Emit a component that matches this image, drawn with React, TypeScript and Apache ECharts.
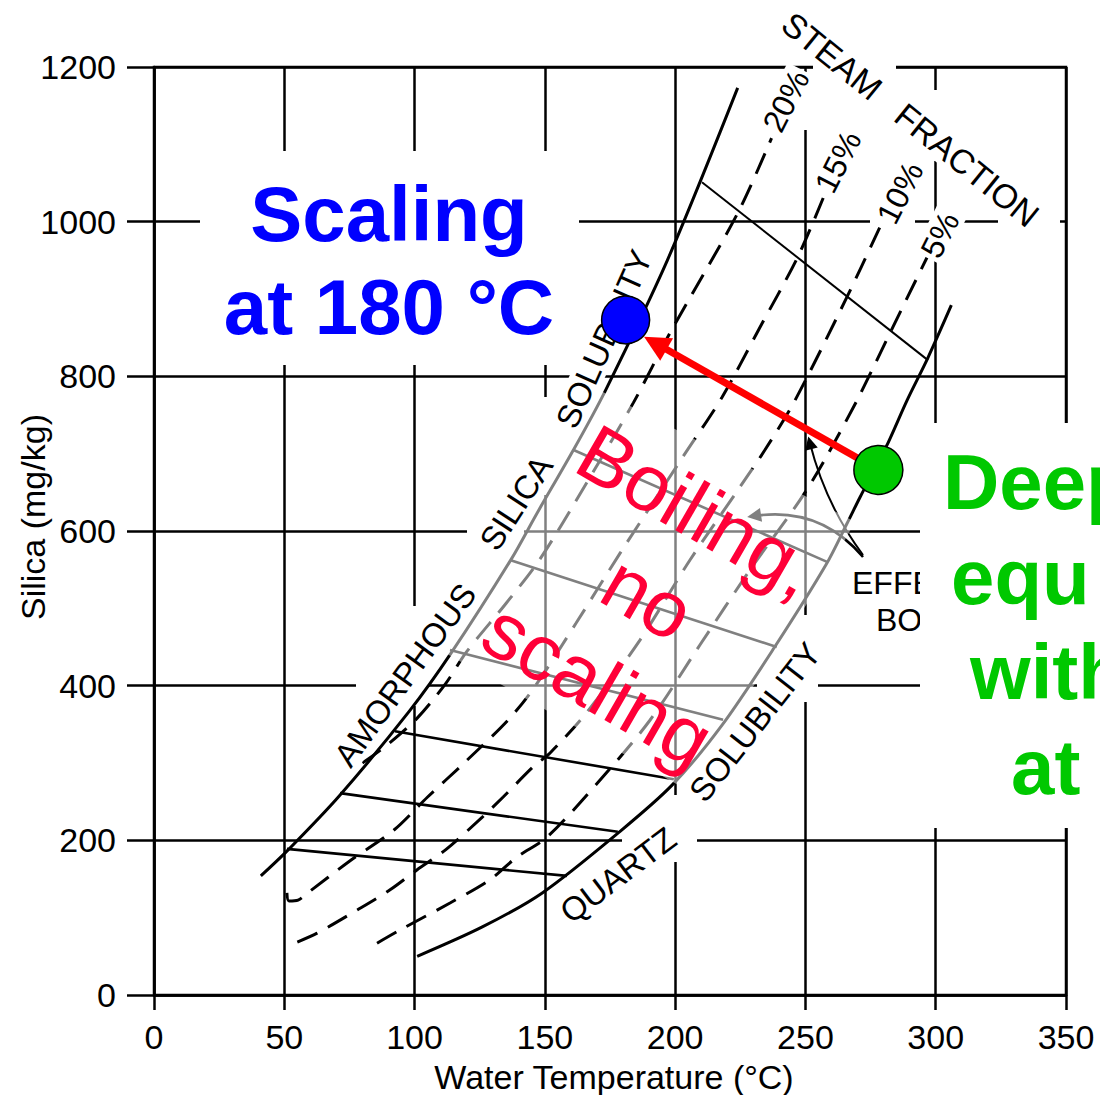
import React, { useEffect, useRef } from 'react';
import * as echarts from 'echarts';

const FONT = "'Liberation Sans', Arial, Helvetica, sans-serif";
const deg = (d: number) => (d * Math.PI) / 180;

// ---- axis ticks ----
const xTicks = [0, 50, 100, 150, 200, 250, 300, 350];
const yTicks = [0, 200, 400, 600, 800, 1000, 1200];

// ---- solubility curves (temperature °C, silica mg/kg) ----
const amorphousSilica: number[][] = [[41, 154], [51, 186], [71, 257], [98, 367], [114, 442], [137, 563], [147, 623], [161, 705], [173, 780], [197, 950], [224, 1173]];
const quartz: number[][] = [[101, 50], [126, 88], [149, 132], [179, 212], [199, 272], [218, 349], [238, 449], [258, 557], [266, 610], [271, 644], [281, 709], [289, 769], [297, 824], [306, 892]];

// ---- steam fraction curves (dashed) ----
const steam20: number[][] = [[80, 300], [89, 322], [101, 358], [112, 403], [120, 444], [135, 506], [148, 563], [166, 662], [184, 766], [198, 856], [224, 1011], [237, 1108]];
const steam15: number[][] = [[51, 132], [51.8, 121.6], [55.3, 122.8], [59, 132], [75, 173], [92, 213], [105, 256], [119, 300], [136, 356], [146, 398], [162, 481], [179, 572], [203, 696], [218, 773], [232, 860], [247, 954], [257, 1032]];
const steam10: number[][] = [[55, 68.5], [62.6, 80], [78, 110], [90.6, 136], [101, 162], [112, 188], [126, 230], [134, 256], [145.5, 295], [152, 313], [166, 365], [186.5, 459], [205.7, 562.5], [224.9, 657], [234.5, 705], [246, 769], [266, 903], [278.6, 993]];
const steam5: number[][] = [[85.6, 67], [94.4, 84], [113.6, 119], [128.9, 149], [139.3, 178.5], [150.8, 204], [171.2, 278], [190.4, 355.6], [209.5, 452.6], [228.7, 549.6], [247.9, 640], [256.7, 688], [269.8, 769], [283.6, 864], [296.7, 954]];

// ---- boiling paths (solid straight segments) ----
const boilingPaths: number[][][] = [
  [[51, 189], [158.5, 154]],
  [[71.4, 261], [178, 211]],
  [[92.5, 341], [199.5, 279]],
  [[113.6, 446], [218.4, 356]],
  [[136.6, 562.5], [239, 450]],
  [[160.8, 705], [258.3, 560]],
];
const topBoilingPath: number[][] = [[210.3, 1051], [297, 821]];

// ---- effervescent boiling arrows ----
const effArrowBlack: number[][] = [[272.1, 569], [251.7, 714]];
const effArrowGray: number[][] = [[272.1, 566.4], [230.3, 619.4]];

// ---- highlighted (greyed) "boiling, no scaling" zone ----
const boilingZone: number[][] = [[112, 442], [135, 563], [145, 623], [159, 705], [171, 782], [269, 612], [260, 557], [240, 449], [220, 349], [201, 272]];

// ---- points ----
const scalingPoint: number[][] = [[181, 873]];
const deepPoint: number[][] = [[278, 679]];
const scalingArrow: number[][] = [[278, 679], [192.4, 843]];

const steamCurves = [steam20, steam15, steam10, steam5];

export default function App() {
  const ref = useRef<HTMLDivElement>(null);
  useEffect(() => {
    const chart = echarts.init(ref.current!, null, { renderer: 'svg' });

    const label = (text: string, x: number, y: number, rot: number, size = 33, z = 4) => ({
      type: 'text', x, y, rotation: deg(rot), z, silent: true,
      style: {
        text, fontSize: size, fontFamily: FONT, fill: '#000', align: 'center', verticalAlign: 'middle',
        backgroundColor: '#fff', padding: [0, 3],
      },
    });
    const mask = (x: number, y: number, w: number, h: number, z = 1) => ({
      type: 'rect', z, silent: true, shape: { x, y, width: w, height: h }, style: { fill: '#fff' },
    });

    const axisLineStyle = { color: '#000', width: 2.5 };

    const option: any = {
      animation: false,
      backgroundColor: '#fff',
      grid: { left: 154, right: 34, top: 67, bottom: 100, show: true, borderColor: '#000', borderWidth: 2.5 },
      xAxis: {
        type: 'value', min: xTicks[0], max: xTicks[xTicks.length - 1], interval: xTicks[1] - xTicks[0],
        axisLine: { show: true, lineStyle: axisLineStyle },
        axisTick: { show: true, length: 15, lineStyle: axisLineStyle },
        axisLabel: { color: '#000', fontSize: 34, fontFamily: FONT, margin: 25, formatter: (v: number) => String(v) },
        splitLine: { show: true, lineStyle: axisLineStyle },
      },
      yAxis: {
        type: 'value', min: yTicks[0], max: yTicks[yTicks.length - 1], interval: yTicks[1] - yTicks[0],
        axisLine: { show: true, lineStyle: axisLineStyle },
        axisTick: { show: true, length: 27, lineStyle: axisLineStyle },
        axisLabel: { color: '#000', fontSize: 34, fontFamily: FONT, margin: 38, formatter: (v: number) => String(v) },
        splitLine: { show: true, lineStyle: axisLineStyle },
      },
      series: [
        { type: 'line', data: amorphousSilica, smooth: 0.3, symbol: 'none', silent: true, z: 2, lineStyle: { color: '#000', width: 3 } },
        { type: 'line', data: quartz, smooth: 0.3, symbol: 'none', silent: true, z: 2, lineStyle: { color: '#000', width: 3 } },
        ...steamCurves.map((d) => ({
          type: 'line', data: d, smooth: 0.3, symbol: 'none', silent: true, z: 2,
          lineStyle: { color: '#000', width: 3, type: [22, 12] },
        })),
        ...boilingPaths.map((d) => ({
          type: 'line', data: d, symbol: 'none', silent: true, z: 2, lineStyle: { color: '#000', width: 2.6 },
        })),
        { type: 'line', data: topBoilingPath, symbol: 'none', silent: true, z: 2, lineStyle: { color: '#000', width: 2 } },
        {
          type: 'lines', coordinateSystem: 'cartesian2d', z: 2, silent: true,
          symbol: ['none', 'triangle'], symbolSize: 13,
          lineStyle: { color: '#000', width: 2, curveness: 0.1, opacity: 1 },
          data: [{ coords: effArrowBlack }],
        },
        {
          type: 'lines', coordinateSystem: 'cartesian2d', z: 2, silent: true,
          symbol: ['none', 'triangle'], symbolSize: 14,
          lineStyle: { color: '#000', width: 2.6, curveness: -0.28, opacity: 1 },
          data: [{ coords: effArrowGray }],
        },
        {
          type: 'custom', coordinateSystem: 'cartesian2d', z: 3, silent: true,
          data: [[0, 0]],
          renderItem: (params: any, api: any) => ({
            type: 'polygon',
            shape: { points: boilingZone.map((p) => api.coord(p)) },
            style: { fill: 'rgba(255,255,255,0.5)' },
          }),
        },
        {
          type: 'lines', coordinateSystem: 'cartesian2d', z: 6, silent: true,
          symbol: ['none', 'triangle'], symbolSize: 26,
          lineStyle: { color: '#ff0000', width: 7, curveness: 0, opacity: 1 },
          data: [{ coords: scalingArrow }],
        },
        {
          type: 'scatter', data: scalingPoint, symbolSize: 48, z: 10, silent: true,
          itemStyle: { color: '#0000ff', borderColor: '#000', borderWidth: 1.5, opacity: 1 },
        },
        {
          type: 'scatter', data: deepPoint, symbolSize: 49, z: 10, silent: true,
          itemStyle: { color: '#00c800', borderColor: '#000', borderWidth: 1.5, opacity: 1 },
        },
      ],
      graphic: {
        elements: [
          // gaps in the original grid
          mask(408, 606, 13, 100),
          mask(356, 680, 72, 12),
          mask(539, 397, 12, 98),
          mask(467, 525, 57, 12),
          mask(669, 795, 12, 67),
          mask(622, 834, 75, 12),
          mask(799, 615, 12, 87),
          mask(757, 680, 61, 12),
          mask(799, 72, 12, 58),
          mask(813, 60, 83, 14),
          mask(998, 216, 62, 12),
          mask(930, 90, 12, 71),
          mask(870, 216, 45, 12),
          // curve labels
          label('STEAM', 832, 56, -39, 34),
          label('FRACTION', 967, 165, -39, 34),
          label('20%', 786, 101, 63, 32),
          label('15%', 838, 162, 63, 32),
          label('10%', 900, 193, 63, 32),
          label('5%', 940, 235, 63, 32),
          label('AMORPHOUS', 405, 675, 54, 33),
          label('SILICA', 516, 503, 57, 33),
          label('SOLUBILITY', 604, 339, 66, 33),
          label('QUARTZ', 618, 875, 37, 33),
          label('SOLUBILITY', 755, 722, 52, 33),
          // partially hidden "EFFE... / BO..." label
          {
            type: 'text', x: 852, y: 583, z: 40, silent: true,
            style: { text: 'EFFE', fontSize: 32, fontFamily: FONT, fill: '#000', align: 'left', verticalAlign: 'middle' },
          },
          {
            type: 'text', x: 876, y: 620, z: 40, silent: true,
            style: { text: 'BO', fontSize: 32, fontFamily: FONT, fill: '#000', align: 'left', verticalAlign: 'middle' },
          },
          // axis titles
          {
            type: 'text', x: 614, y: 1077, z: 100, silent: true,
            style: { text: 'Water Temperature (°C)', fontSize: 34, fontFamily: FONT, fill: '#000', align: 'center', verticalAlign: 'middle' },
          },
          {
            type: 'text', x: 33, y: 517, rotation: deg(90), z: 100, silent: true,
            style: { text: 'Silica (mg/kg)', fontSize: 34, fontFamily: FONT, fill: '#000', align: 'center', verticalAlign: 'middle' },
          },
          // "Scaling at 180 °C"
          { type: 'rect', z: 50, silent: true, shape: { x: 200, y: 151, width: 379, height: 214 }, style: { fill: '#fff' } },
          {
            type: 'text', x: 389, y: 260, z: 100, silent: true,
            style: { text: 'Scaling\nat 180 °C', fontSize: 78, fontWeight: 'bold', fontFamily: FONT, fill: '#0000ff', align: 'center', verticalAlign: 'middle', lineHeight: 93 },
          },
          // deep equilibrium label (cut by the page edge, as in the original)
          { type: 'rect', z: 50, silent: true, shape: { x: 920, y: 423, width: 190, height: 405 }, style: { fill: '#fff' } },
          ...[['Deep', 943, 482], ['equ', 951, 577], ['with', 970, 672], ['at', 1011, 767]].map(([t, x, y]) => ({
            type: 'text', x, y, z: 100, silent: true,
            style: { text: t, fontSize: 78, fontWeight: 'bold', fontFamily: FONT, fill: '#00c800', align: 'left', verticalAlign: 'middle' },
          })),
          // "Boiling, no scaling"
          {
            type: 'text', x: 648, y: 598, rotation: deg(-30), z: 100, silent: true,
            style: { text: 'Boiling,\nno\nscaling', fontSize: 80, fontFamily: FONT, fill: '#ff0038', align: 'center', verticalAlign: 'middle', lineHeight: 100 },
          },
        ],
      },
    };

    chart.setOption(option);
    return () => chart.dispose();
  }, []);

  return (
    <div
      ref={ref}
      style={{ position: 'fixed', left: 0, top: 0, width: 1100, height: 1095, background: '#fff' }}
    />
  );
}
